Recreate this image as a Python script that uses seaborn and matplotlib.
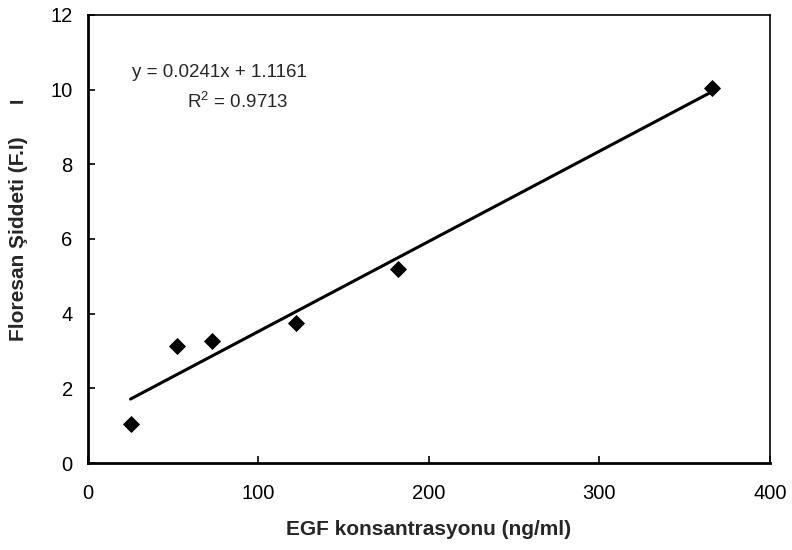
import numpy as np
import pandas as pd
import seaborn as sns
import matplotlib.pyplot as plt

# data
egf_conc = [25, 52, 73, 122, 182, 366]
intensity = [1.05, 3.13, 3.27, 3.75, 5.2, 10.05]

eq_text = "y = 0.0241x + 1.1161"
r2_text = r"R$^2$ = 0.9713"

sns.set_theme(style="white")
plt.rcParams["font.family"] = ["Liberation Sans", "DejaVu Sans"]
plt.rcParams["mathtext.fontset"] = "custom"
plt.rcParams["mathtext.rm"] = "Liberation Sans"

df = pd.DataFrame({"x": egf_conc, "y": intensity})

fig = plt.figure(figsize=(7.92, 5.5), dpi=100)
ax = fig.add_axes([0.111, 0.158, 0.861, 0.815])

sns.regplot(data=df, x="x", y="y", ax=ax, ci=None, truncate=True,
            scatter=False, line_kws={"color": "black", "lw": 2.2})
sns.scatterplot(data=df, x="x", y="y", ax=ax, marker="D", s=65,
                color="black", edgecolor="black", zorder=3)

ax.set_xlim(0, 400)
ax.set_ylim(0, 12)
ax.set_xticks([0, 100, 200, 300, 400])
ax.set_yticks([0, 2, 4, 6, 8, 10, 12])
ax.tick_params(axis="both", direction="in", length=5, width=1.2,
               labelsize=14.5, colors="black", pad=11)
ax.tick_params(axis="x", pad=15)
ax.tick_params(left=True, bottom=True)

for side in ["left", "bottom"]:
    ax.spines[side].set_linewidth(2)
    ax.spines[side].set_color("black")
for side in ["top", "right"]:
    ax.spines[side].set_linewidth(1.2)
    ax.spines[side].set_color("black")

ax.set_xlabel("EGF konsantrasyonu (ng/ml)", fontsize=15, fontweight="bold", labelpad=12)
ax.set_ylabel("Floresan Şiddeti (F.I)", fontsize=15, fontweight="bold", labelpad=16)

ax.text(77, 10.45, eq_text, fontsize=13.5, ha="center", va="center")
ax.text(88, 9.67, r2_text, fontsize=13.5, ha="center", va="center")

# stray mark at left of the original
fig.text(0.023, 0.818, "I", fontsize=14, fontweight="bold", rotation=90,
         ha="center", va="center")

fig.savefig("out.png", dpi=100)
